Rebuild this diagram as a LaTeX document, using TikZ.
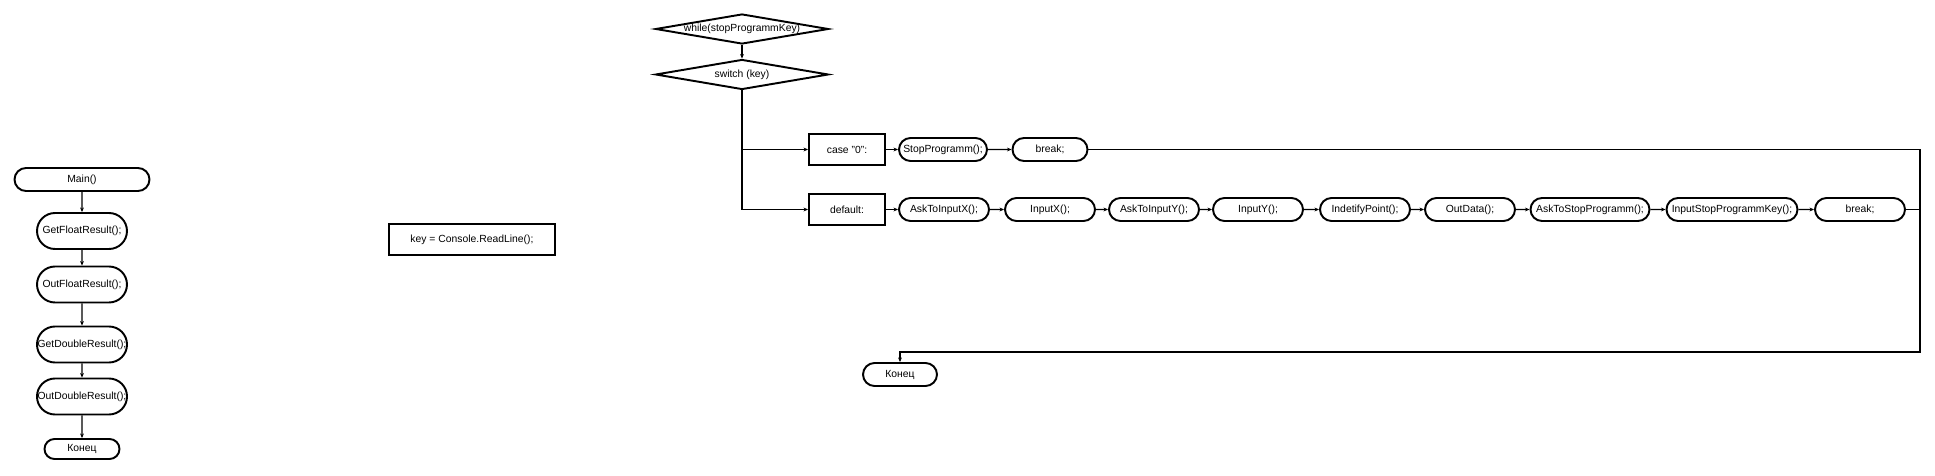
\documentclass[tikz,border=0pt]{standalone}
\usepackage{fontspec}
\setmainfont{Liberation Sans}
\usepackage{tikz}
\usetikzlibrary{arrows.meta}
\usetikzlibrary{shapes.geometric,shapes.misc}

\tikzset{
  term/.style={draw, rounded rectangle, line width=1.1pt, inner sep=0pt,
    minimum width=1.8cm, minimum height=0.46cm},
  proc/.style={draw, rectangle, line width=1.1pt, inner sep=0pt,
    minimum width=1.52cm, minimum height=0.62cm},
  cond/.style={draw, diamond, aspect=5.77, line width=1.1pt, inner sep=0pt,
    minimum width=3.46cm, minimum height=0.6cm},
  flow/.style={line width=0.7pt},
}

\begin{document}
\begin{tikzpicture}[x=0.02cm, y=-0.02cm, >={Stealth[length=2.6pt,width=2.2pt]},
    font=\fontsize{5.9}{7}\selectfont]
        \useasboundingbox (0,0) rectangle (1935,476);

        % main() column
        \path
        (82,179.5) node[term, minimum width=2.7cm] (main) {Main()}
        (82,231)   node[term, minimum height=0.72cm] (getF) {GetFloatResult();}
        (82,284.5) node[term, minimum height=0.72cm] (outF) {OutFloatResult();}
        (82,344.5) node[term, minimum height=0.72cm] (getD) {GetDoubleResult();}
        (82,396.5) node[term, minimum height=0.72cm] (outD) {OutDoubleResult();}
        (82,449)   node[term, minimum width=1.5cm, minimum height=0.4cm] (endL) {Конец}
        ;

        \node[proc, minimum width=3.32cm] (readKey) at (472,239.5) {key = Console.ReadLine();};

        % loop
        \path
        (742,29)   node[cond] (loop) {while(stopProgrammKey)}
        (742,74.5) node[cond] (sw) {switch (key)}
        (847,149.5) node[proc] (case0) {case "0":}
        (943,149.5) node[term, minimum width=1.76cm] (stopP) {StopProgramm();}
        (1050,149.5) node[term, minimum width=1.5cm] (brkA) {break;}
        (847,209.5) node[proc] (dflt) {default:}
        (944,209.5)  node[term] (askX) {AskToInputX();}
        (1050,209.5) node[term] (inX) {InputX();}
        (1154,209.5) node[term] (askY) {AskToInputY();}
        (1258,209.5) node[term] (inY) {InputY();}
        (1365,209.5) node[term] (ident) {IndetifyPoint();}
        (1470,209.5) node[term] (outData) {OutData();}
        (1590,209.5) node[term, minimum width=2.38cm] (askStop) {AskToStopProgramm();}
        (1732,209.5) node[term, minimum width=2.62cm] (inStop) {InputStopProgrammKey();}
        (1860,209.5) node[term] (brkB) {break;}
        (900,374.5) node[term, minimum width=1.48cm] (endR) {Конец}
        ;
        \coordinate (rTop) at (1920,149.5);
        \coordinate (rBot) at (1920,352);

        \draw[flow,->] (main) -- (getF);
        \draw[flow,->] (getF) -- (outF);
        \draw[flow,->] (outF) -- (getD);
        \draw[flow,->] (getD) -- (outD);
        \draw[flow,->] (outD) -- (endL);

        \draw[flow,->] (loop) -- (sw);
        \draw[flow,->] (sw.south) |- (dflt.west);
        \draw[flow,->] (sw.south |- case0.west) -- (case0.west);

        \draw[flow,->] (case0) -- (stopP);
        \draw[flow,->] (stopP) -- (brkA);
        \draw[flow,->] (dflt) -- (askX);
        \draw[flow,->] (askX) -- (inX);
        \draw[flow,->] (inX) -- (askY);
        \draw[flow,->] (askY) -- (inY);
        \draw[flow,->] (inY) -- (ident);
        \draw[flow,->] (ident) -- (outData);
        \draw[flow,->] (outData) -- (askStop);
        \draw[flow,->] (askStop) -- (inStop);
        \draw[flow,->] (inStop) -- (brkB);

        \draw[flow] (brkB.east) -- (brkB.east -| rTop);
        \draw[flow,->] (brkA.east) -- (rTop) -- (rBot) -| (endR.north);
\end{tikzpicture}
\end{document}
